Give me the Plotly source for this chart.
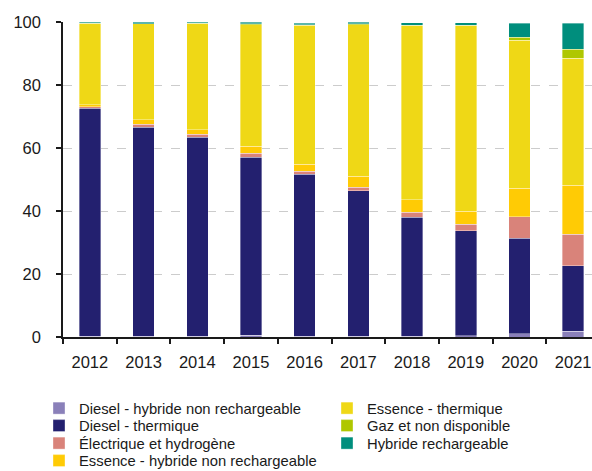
import plotly.graph_objects as go

years = ["2012", "2013", "2014", "2015", "2016", "2017", "2018", "2019", "2020", "2021"]

diesel_hybride = [0.3, 0.3, 0.3, 0.5, 0.3, 0.2, 0.2, 0.4, 1.1, 1.8]
diesel_thermique = [72.4, 66.3, 63.1, 56.6, 51.3, 46.2, 37.8, 33.4, 30.2, 20.9]
electrique = [0.4, 0.9, 0.9, 1.3, 1.0, 1.2, 1.6, 2.0, 6.8, 10.0]
essence_hybride = [0.6, 1.5, 1.5, 2.1, 2.3, 3.5, 4.0, 4.2, 9.2, 15.4]
essence_thermique = [25.8, 30.4, 33.6, 38.7, 44.0, 48.1, 55.2, 58.8, 46.9, 40.4]
gaz = [0.1, 0.1, 0.2, 0.2, 0.2, 0.2, 0.1, 0.1, 1.0, 2.8]
hybride_rechargeable = [0.4, 0.5, 0.4, 0.5, 0.5, 0.5, 0.9, 0.9, 4.4, 8.3]

series = [
    ("Diesel - hybride non rechargeable", diesel_hybride, "#8a80b9"),
    ("Diesel - thermique", diesel_thermique, "#23206f"),
    ("Électrique et hydrogène", electrique, "#d9837a"),
    ("Essence - hybride non rechargeable", essence_hybride, "#ffcb05"),
    ("Essence - thermique", essence_thermique, "#efd816"),
    ("Gaz et non disponible", gaz, "#afc700"),
    ("Hybride rechargeable", hybride_rechargeable, "#008e7d"),
]

W, H = 592, 471

# legend slots: (legend left x, row centre y) in px
legend_slots = [(39, 408.5), (39, 426), (39, 443.5), (39, 461),
                (327, 408.5), (327, 426), (327, 443.5)]

font_family = "Liberation Sans, Arial, Helvetica, sans-serif"

fig = go.Figure()
layout_legends = {}
for i, (name, vals, color) in enumerate(series):
    lname = "legend" if i == 0 else f"legend{i + 1}"
    fig.add_trace(go.Bar(
        x=years, y=vals, name=name,
        marker=dict(color=color, line=dict(color="rgba(255,255,255,0.45)", width=0.8)),
        legend=lname,
    ))
    lx, ly = legend_slots[i]
    layout_legends[lname] = dict(
        xref="container", yref="container",
        x=lx / W, y=1 - ly / H, xanchor="left", yanchor="middle",
        font=dict(size=14.8, family=font_family, color="#1a1a1a"),
        bgcolor="rgba(0,0,0,0)",
        itemclick=False, itemdoubleclick=False,
    )

fig.update_layout(
    barmode="stack",
    bargap=0.6,
    width=W, height=H,
    margin=dict(l=63, r=0, t=22, b=134, autoexpand=False),
    paper_bgcolor="white",
    plot_bgcolor="white",
    font=dict(family=font_family, color="#1a1a1a", size=16.5),
    showlegend=True,
    xaxis=dict(
        type="category",
        range=[-0.5, 9.35],
        tickson="boundaries",
        ticks="outside", ticklen=5, tickcolor="#1a1a1a", tickwidth=1.5,
        showline=True, linecolor="#1a1a1a", linewidth=1.5,
        showgrid=False,
        ticklabelstandoff=9,
        ticklabeloverflow="allow",
        tickfont=dict(size=16.5),
    ),
    yaxis=dict(
        range=[0, 100],
        tickvals=[0, 20, 40, 60, 80, 100],
        ticks="outside", ticklen=5, tickcolor="#1a1a1a", tickwidth=1.5,
        showline=True, linecolor="#1a1a1a", linewidth=1.5,
        showgrid=True, gridcolor="#cccccc", griddash="dash", gridwidth=1,
        zeroline=False,
        ticklabelstandoff=12,
        tickfont=dict(size=16.5),
    ),
    **layout_legends,
)

fig.write_html(
    "out.html",
    config={"displayModeBar": False},
    post_script="document.body.style.margin='0';document.body.style.overflow='hidden';",
)
